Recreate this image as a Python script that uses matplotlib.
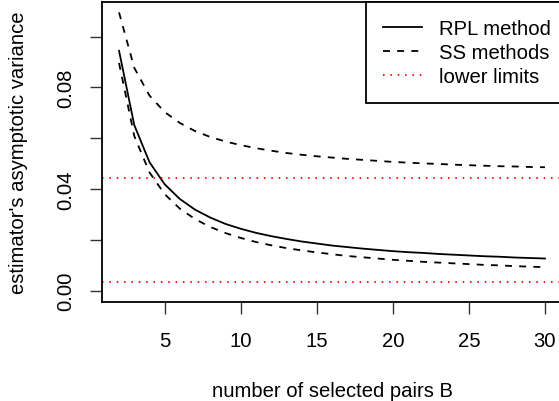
"""
Asymptotic variance of the estimators vs. number of selected pairs B.
RPL method, SS methods (upper / lower) and the two lower limits.
"""
import matplotlib
matplotlib.use("Agg")
import matplotlib.pyplot as plt

plt.rcParams["font.family"] = ["Liberation Sans", "DejaVu Sans"]
plt.rcParams["lines.scale_dashes"] = False

# ---------------------------------------------------------------------------
# Data
# ---------------------------------------------------------------------------
B = list(range(2, 31))

rpl = [0.0944, 0.0652, 0.0506, 0.0419, 0.0361, 0.0319, 0.0288, 0.0263,
       0.0244, 0.0228, 0.0215, 0.0204, 0.0194, 0.0186, 0.0178, 0.0172,
       0.0166, 0.0161, 0.0156, 0.0152, 0.0149, 0.0145, 0.0142, 0.0139,
       0.0136, 0.0134, 0.0131, 0.0129, 0.0127]

ss_upper = [0.1095, 0.0877, 0.0768, 0.0703, 0.0660, 0.0628, 0.0605, 0.0587,
            0.0573, 0.0561, 0.0551, 0.0542, 0.0535, 0.0529, 0.0524, 0.0519,
            0.0515, 0.0511, 0.0507, 0.0504, 0.0501, 0.0499, 0.0496, 0.0494,
            0.0492, 0.0490, 0.0489, 0.0487, 0.0486]

ss_lower = [0.0896, 0.0609, 0.0466, 0.0380, 0.0323, 0.0282, 0.0251, 0.0227,
            0.0208, 0.0192, 0.0179, 0.0168, 0.0159, 0.0151, 0.0144, 0.0137,
            0.0132, 0.0127, 0.0122, 0.0118, 0.0114, 0.0111, 0.0108, 0.0105,
            0.0102, 0.0100, 0.0097, 0.0095, 0.0093]

lower_limits = [0.0442, 0.0035]

x_ticks = [5, 10, 15, 20, 25, 30]
y_ticks = [0.00, 0.02, 0.04, 0.06, 0.08, 0.10]
y_labels = ["0.00", "", "0.04", "", "0.08", ""]

# ---------------------------------------------------------------------------
# Plot
# ---------------------------------------------------------------------------
W, H = 559, 402
FS = 14.6
fig = plt.figure(figsize=(W / 100, H / 100), dpi=100)
left, right, top, bottom = 102, 562, 2.7, 303
ax = fig.add_axes([left / W, 1 - bottom / H, (right - left) / W, (bottom - top) / H])

lw = 1.3
dash = (0, (5.0, 5.2))
dot = (0, (1.1, 4.2))

ax.plot(B, rpl, color="black", lw=lw, label="RPL method")
ax.plot(B, ss_upper, color="black", lw=lw, linestyle=dash, label="SS methods")
ax.plot(B, ss_lower, color="black", lw=lw, linestyle=dash)
for i, v in enumerate(lower_limits):
    ax.axhline(v, color="#FF0000", lw=lw, linestyle=dot,
               label="lower limits" if i == 0 else None)

ax.set_xlim(0.88, 31.12)
ax.set_ylim(-0.0044, 0.1137)

ax.set_xticks(x_ticks)
ax.set_xticklabels([str(t) for t in x_ticks])
ax.set_yticks(y_ticks)
ax.set_yticklabels(y_labels, rotation=90, va="center")
ax.tick_params(axis="both", direction="out", length=8.6, width=1.0,
               labelsize=FS, color="#333333")
ax.tick_params(axis="x", pad=12)
ax.tick_params(axis="y", pad=11)

for s in ax.spines.values():
    s.set_linewidth(1.3)
    s.set_color("black")

ax.set_xlabel("number of selected pairs B", fontsize=FS, labelpad=22.5)
ax.set_ylabel("estimator's asymptotic variance", fontsize=FS, labelpad=20)

leg = ax.legend(loc="upper right", bbox_to_anchor=(1.012, 1.0), borderaxespad=0,
                fontsize=FS, frameon=True, fancybox=False, framealpha=1,
                edgecolor="black", handlelength=1.92, handletextpad=0.8,
                labelspacing=0.25, borderpad=0.84)
leg.get_frame().set_linewidth(1.3)

fig.savefig("out.png", dpi=100)
